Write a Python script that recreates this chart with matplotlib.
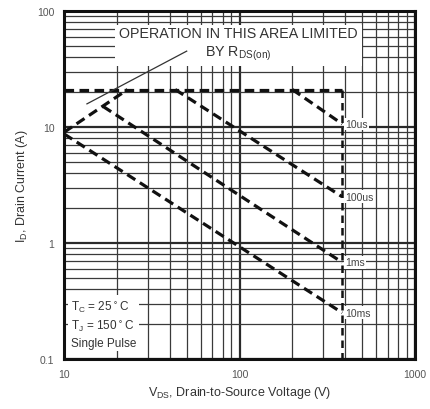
import numpy as np
import matplotlib.pyplot as plt
from matplotlib.ticker import FixedLocator, NullFormatter

plt.rcParams['font.family'] = ['Liberation Sans', 'DejaVu Sans']

# boundary lines of the safe operating area (V, A)
limit_v = [10, 385]
limit_i = [21, 21]
rds_v = [10, 23]
rds_i = [9.0, 21]
us10_v = [200, 385]
us10_i = [21, 10.6]
us100_v = [43, 385]
us100_i = [21, 2.5]
ms1_v = [16.7, 385]
ms1_i = [15, 0.68]
ms10_v = [10, 385]
ms10_i = [8.7, 0.25]
vmax_v = [385, 385]
vmax_i = [21, 0.1]

# pointer line for the R_DS(on) note
note_v = [13.5, 50]
note_i = [15.8, 45]

curve_labels = ['10us', '100us', '1ms', '10ms']
curve_label_i = [10.6, 2.5, 0.68, 0.25]

x_ticks = [10, 100, 1000]
x_tick_labels = ['10', '100', '1000']
y_ticks = [0.1, 1, 10, 100]
y_tick_labels = ['0.1', '1', '10', '100']

fig = plt.figure(figsize=(4.3, 4.1), dpi=100)
ax = fig.add_axes([0.149, 0.122, 0.816, 0.849])
ax.set_xscale('log')
ax.set_yscale('log')
ax.set_xlim(10, 1000)
ax.set_ylim(0.1, 100)

gc = '#2a2a2a'
ax.xaxis.set_minor_locator(FixedLocator([m * d for d in (10, 100) for m in range(2, 10)]))
ax.yaxis.set_minor_locator(FixedLocator([m * d for d in (0.1, 1, 10) for m in range(2, 10)]))
ax.xaxis.set_minor_formatter(NullFormatter())
ax.yaxis.set_minor_formatter(NullFormatter())
ax.grid(True, which='major', color=gc, lw=1.6)
ax.grid(True, which='minor', color='#3a3a3a', lw=0.9)
ax.set_axisbelow(True)

ax.set_xticks(x_ticks)
ax.set_xticklabels(x_tick_labels)
ax.set_yticks(y_ticks)
ax.set_yticklabels(y_tick_labels)
ax.tick_params(which='both', length=0, labelsize=7.5, labelcolor='#555', pad=7)

for s in ax.spines.values():
    s.set_linewidth(2.2)
    s.set_color('#111')

dash = dict(color='#111', lw=2.3, linestyle=(0, (3, 1.7)), zorder=4)
ax.plot(limit_v, limit_i, **dash)
ax.plot(rds_v, rds_i, **dash)
ax.plot(us10_v, us10_i, **dash)
ax.plot(us100_v, us100_i, **dash)
ax.plot(ms1_v, ms1_i, **dash)
ax.plot(ms10_v, ms10_i, **dash)
ax.plot(vmax_v, vmax_i, color='#111', lw=1.8, linestyle=(0, (3, 2)), zorder=4)

# note line drawn over the white text patch so it reaches the "BY" line
ax.plot(note_v, note_i, color='#333', lw=0.9, zorder=7)

for lab, yi in zip(curve_labels, curve_label_i):
    ax.text(400, yi, lab, fontsize=7.5, color='#444', va='center', ha='left', zorder=6,
            bbox=dict(facecolor='white', edgecolor='none', pad=1))

ax.text(0.496, 0.905, 'OPERATION IN THIS AREA LIMITED\nBY R$_{\\mathregular{DS(on)}}$',
        transform=ax.transAxes, fontsize=10.3, color='#333', ha='center', va='center',
        linespacing=1.3, zorder=6,
        bbox=dict(facecolor='white', edgecolor='none', pad=3))

ax.text(0.02, 0.03, 'T$_\\mathregular{C}$ = 25$^\\circ$C\nT$_\\mathregular{J}$ = 150$^\\circ$C\nSingle Pulse',
        transform=ax.transAxes, fontsize=8.5, color='#333', ha='left', va='bottom',
        linespacing=1.35, zorder=6,
        bbox=dict(facecolor='white', edgecolor='none', pad=2))

ax.set_xlabel('V$_\\mathregular{DS}$, Drain-to-Source Voltage (V)', fontsize=9, color='#333', labelpad=4)
ax.set_ylabel('I$_\\mathregular{D}$, Drain Current (A)', fontsize=9, color='#333', labelpad=5)

fig.savefig('out.png', dpi=100)
